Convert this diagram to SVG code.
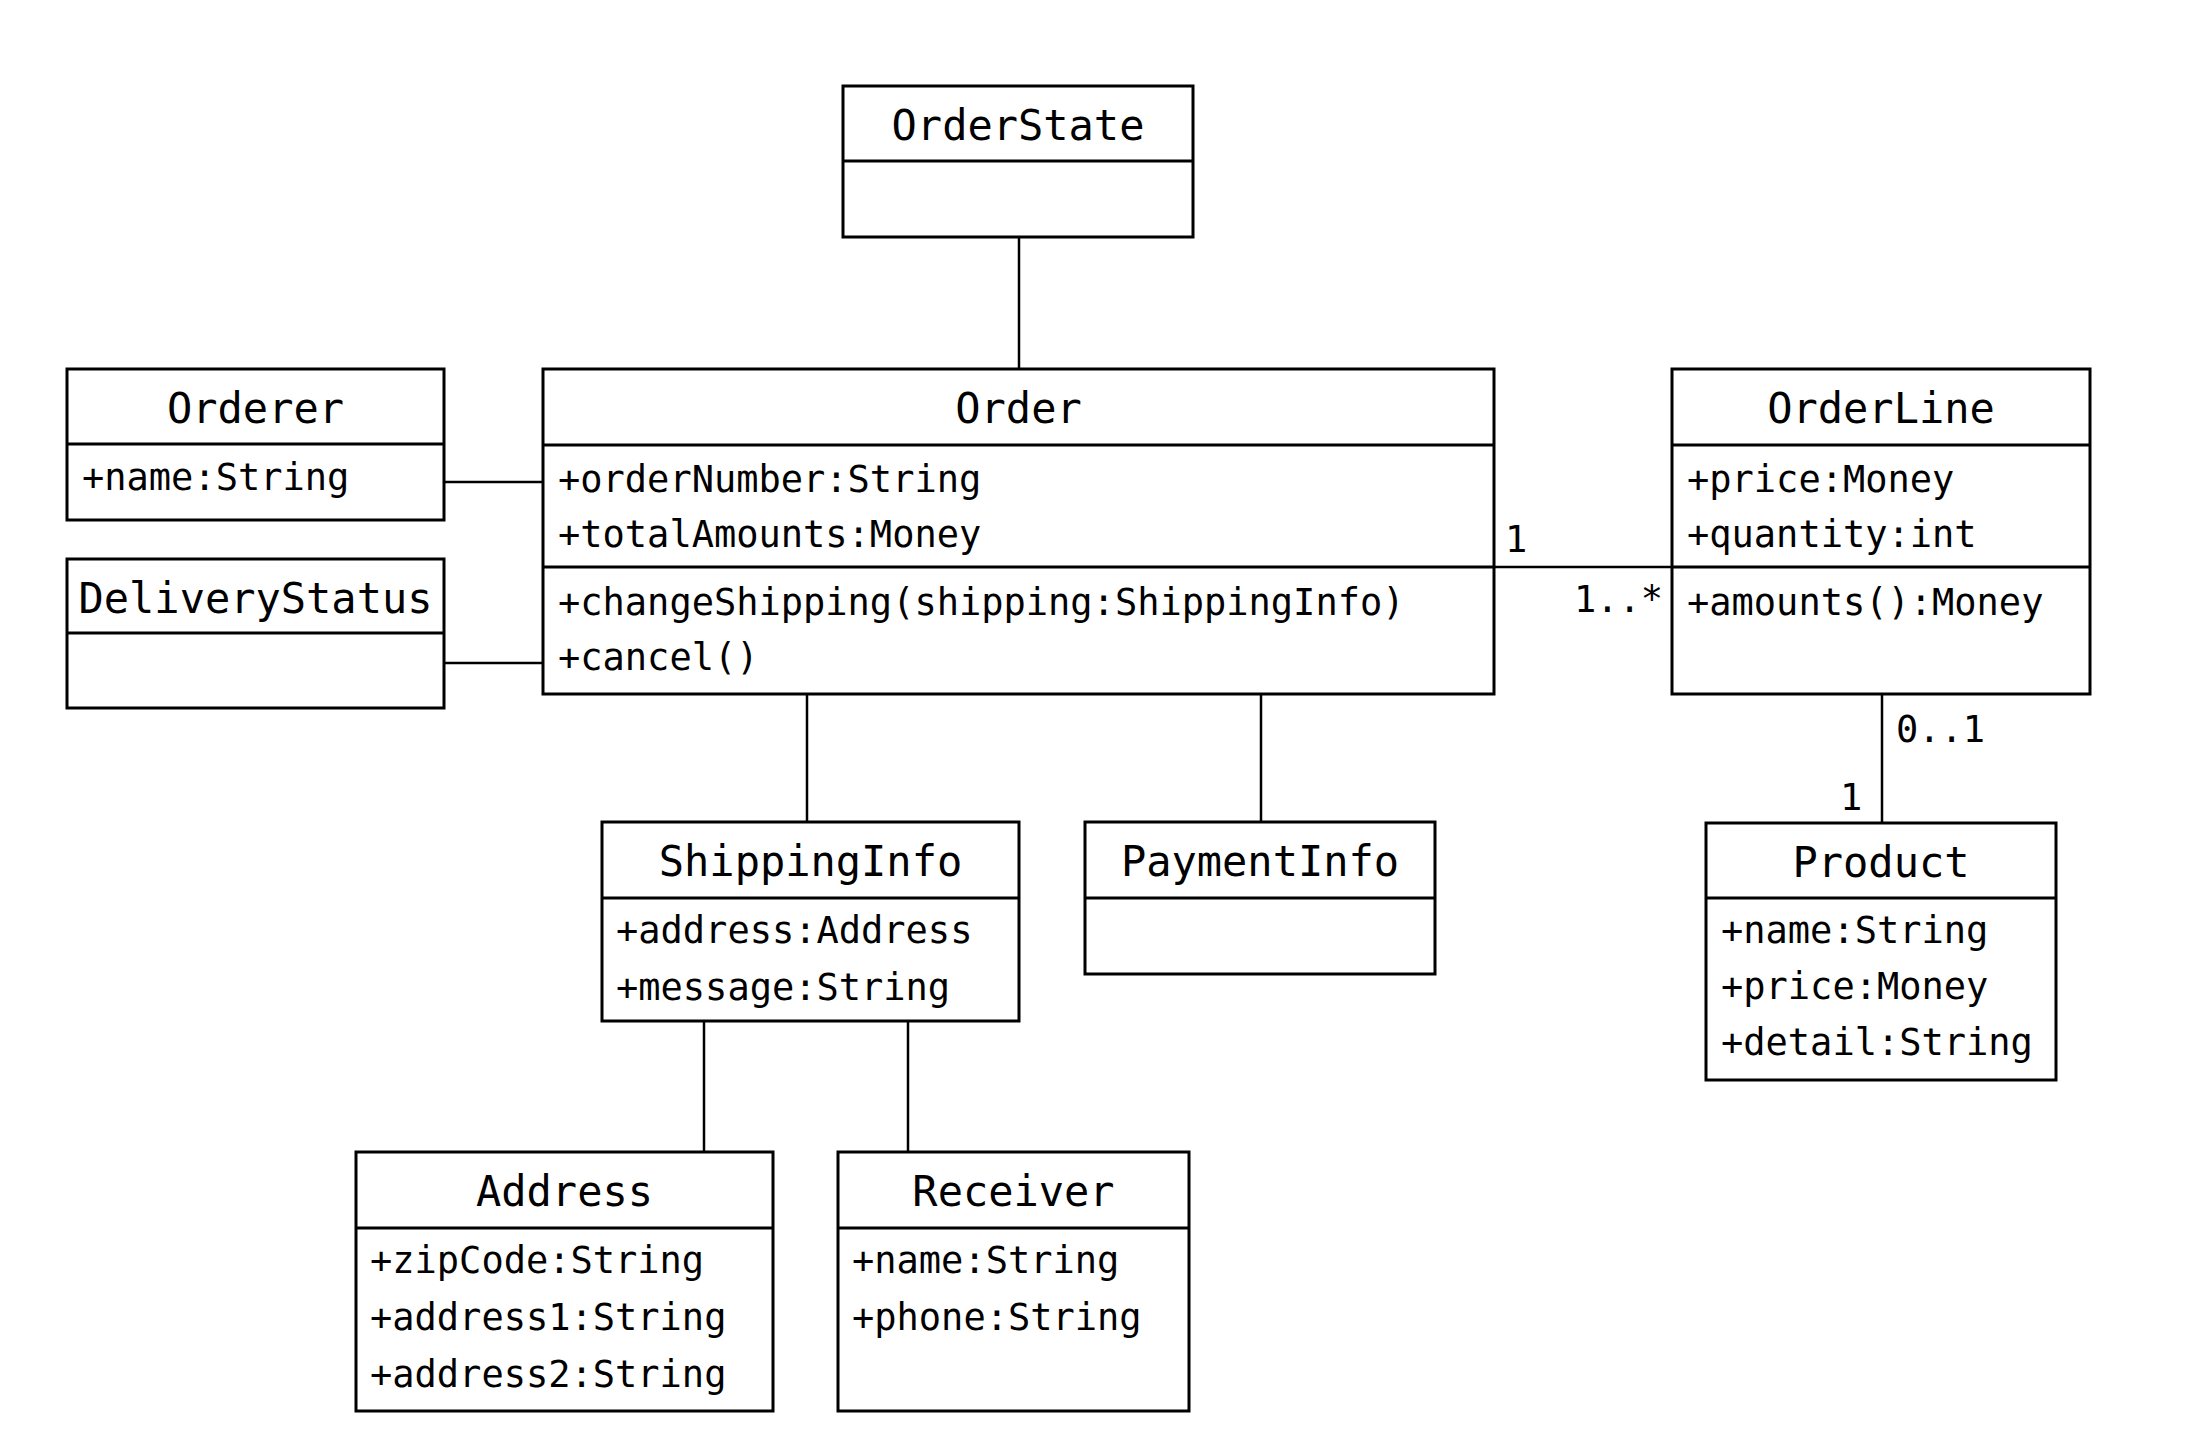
<svg xmlns="http://www.w3.org/2000/svg" width="2186" height="1434" viewBox="0 0 2186 1434">
<style>
.box{fill:#fff;stroke:#000;stroke-width:3}
.div{stroke:#000;stroke-width:3}
.conn line{stroke:#000;stroke-width:2.5}
.name{font-family:"DejaVu Sans Mono","Liberation Mono",monospace;font-size:42px;text-anchor:middle;fill:#000}
.attr{font-family:"DejaVu Sans Mono","Liberation Mono",monospace;font-size:37px;fill:#000}
.mult{font-family:"DejaVu Sans Mono","Liberation Mono",monospace;font-size:37px;fill:#000}
</style>
<rect width="2186" height="1434" fill="#fff"/>
<g id="connectors" class="conn">
<line x1="1019" y1="237" x2="1019" y2="369"/>
<line x1="444" y1="482" x2="543" y2="482"/>
<line x1="444" y1="663" x2="543" y2="663"/>
<line x1="1494" y1="567" x2="1672" y2="567"/>
<line x1="807" y1="694" x2="807" y2="822"/>
<line x1="1261" y1="694" x2="1261" y2="822"/>
<line x1="1882" y1="694" x2="1882" y2="823"/>
<line x1="704" y1="1021" x2="704" y2="1152"/>
<line x1="908" y1="1021" x2="908" y2="1152"/>
<text class="mult" x="1505" y="552">1</text>
<text class="mult" x="1574" y="612">1..*</text>
<text class="mult" x="1896" y="742">0..1</text>
<text class="mult" x="1840" y="810">1</text>
</g>
<g id="OrderState">
<rect class="box" x="843" y="86" width="350" height="151"/>
<line class="div" x1="843" y1="161" x2="1193" y2="161"/>
<text class="name" x="1018" y="140">OrderState</text>
</g>
<g id="Orderer">
<rect class="box" x="67" y="369" width="377" height="151"/>
<line class="div" x1="67" y1="444" x2="444" y2="444"/>
<text class="name" x="255.5" y="423">Orderer</text>
<text class="attr" x="82" y="490">+name:String</text>
</g>
<g id="DeliveryStatus">
<rect class="box" x="67" y="559" width="377" height="149"/>
<line class="div" x1="67" y1="633" x2="444" y2="633"/>
<text class="name" x="255.5" y="613">DeliveryStatus</text>
</g>
<g id="Order">
<rect class="box" x="543" y="369" width="951" height="325"/>
<line class="div" x1="543" y1="445" x2="1494" y2="445"/>
<line class="div" x1="543" y1="567" x2="1494" y2="567"/>
<text class="name" x="1018.5" y="423">Order</text>
<text class="attr" x="558" y="492">+orderNumber:String</text>
<text class="attr" x="558" y="547">+totalAmounts:Money</text>
<text class="attr" x="558" y="615">+changeShipping(shipping:ShippingInfo)</text>
<text class="attr" x="558" y="670">+cancel()</text>
</g>
<g id="OrderLine">
<rect class="box" x="1672" y="369" width="418" height="325"/>
<line class="div" x1="1672" y1="445" x2="2090" y2="445"/>
<line class="div" x1="1672" y1="567" x2="2090" y2="567"/>
<text class="name" x="1881" y="423">OrderLine</text>
<text class="attr" x="1687" y="492">+price:Money</text>
<text class="attr" x="1687" y="547">+quantity:int</text>
<text class="attr" x="1687" y="615">+amounts():Money</text>
</g>
<g id="ShippingInfo">
<rect class="box" x="602" y="822" width="417" height="199"/>
<line class="div" x1="602" y1="898" x2="1019" y2="898"/>
<text class="name" x="810.5" y="876">ShippingInfo</text>
<text class="attr" x="616" y="943">+address:Address</text>
<text class="attr" x="616" y="1000">+message:String</text>
</g>
<g id="PaymentInfo">
<rect class="box" x="1085" y="822" width="350" height="152"/>
<line class="div" x1="1085" y1="898" x2="1435" y2="898"/>
<text class="name" x="1260" y="876">PaymentInfo</text>
</g>
<g id="Product">
<rect class="box" x="1706" y="823" width="350" height="257"/>
<line class="div" x1="1706" y1="898" x2="2056" y2="898"/>
<text class="name" x="1881" y="877">Product</text>
<text class="attr" x="1721" y="943">+name:String</text>
<text class="attr" x="1721" y="999">+price:Money</text>
<text class="attr" x="1721" y="1055">+detail:String</text>
</g>
<g id="Address">
<rect class="box" x="356" y="1152" width="417" height="259"/>
<line class="div" x1="356" y1="1228" x2="773" y2="1228"/>
<text class="name" x="564.5" y="1206">Address</text>
<text class="attr" x="370" y="1273">+zipCode:String</text>
<text class="attr" x="370" y="1330">+address1:String</text>
<text class="attr" x="370" y="1387">+address2:String</text>
</g>
<g id="Receiver">
<rect class="box" x="838" y="1152" width="351" height="259"/>
<line class="div" x1="838" y1="1228" x2="1189" y2="1228"/>
<text class="name" x="1013.5" y="1206">Receiver</text>
<text class="attr" x="852" y="1273">+name:String</text>
<text class="attr" x="852" y="1330">+phone:String</text>
</g>
</svg>
